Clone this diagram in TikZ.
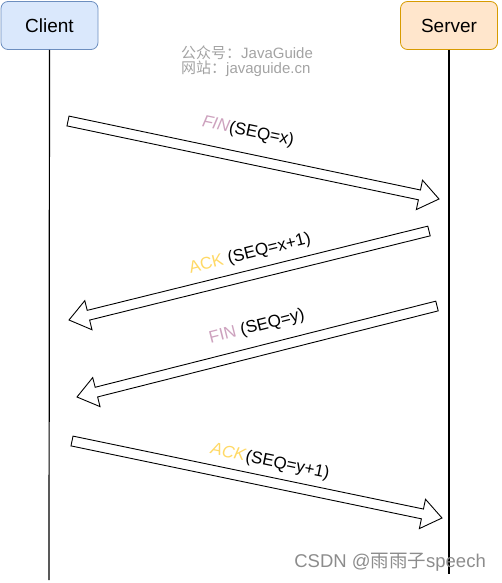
\documentclass[tikz,border=0pt]{standalone}
\usepackage{fontspec}
\setmainfont{Liberation Sans}
\newfontfamily\cjk{Noto Sans CJK SC}
\usetikzlibrary{calc}

\definecolor{clientfill}{HTML}{DAE8FC}
\definecolor{clientdraw}{HTML}{6C8EBF}
\definecolor{serverfill}{HTML}{FFE6CC}
\definecolor{serverdraw}{HTML}{D79B00}
\definecolor{finpink}{HTML}{CDA2BE}
\definecolor{ackyellow}{HTML}{FFD966}
\definecolor{markgray}{HTML}{A3A3A3}
\definecolor{csdngray}{HTML}{8C8C8C}

\begin{document}
\begin{tikzpicture}[x=1pt, y=-1pt,
  party/.style={draw, rounded corners=7pt, minimum width=97pt, minimum height=48pt,
    line width=0.8pt, font=\fontsize{19}{22}\selectfont},
  lifeline/.style={line width=1.2pt},
  msg/.style={inner sep=0pt, font=\fontsize{17}{19}\selectfont},
  blockarrow/.style={draw, fill=white, line width=0.9pt, line join=miter}]

\useasboundingbox (0,0) rectangle (501,583);

% Half width of the shaft, half width and length of the head
\def\sw{5pt}
\def\hw{15pt}
\def\hl{20pt}

% The two parties
\node[party, fill=clientfill, draw=clientdraw] (client) at (49.5,25.5) {Client};
\node[party, fill=serverfill, draw=serverdraw] (server) at (449,25.5) {Server};

% Lifelines
\coordinate (clientend) at (49,580);
\coordinate (serverend) at (449,574);
\draw[lifeline] (client.south) -- (clientend);
\draw[lifeline] (server.south) -- (serverend);

% Watermark
\node[anchor=west, markgray, align=left, inner sep=0pt, font=\fontsize{15}{15}\selectfont]
  (mark) at (181,61) {{\cjk 公众号：}JavaGuide\\{\cjk 网站：}javaguide.cn};

% Ends of the four messages
\coordinate (m1s) at (68,121);
\coordinate (m1e) at (439,199);
\coordinate (m2s) at (429,231);
\coordinate (m2e) at (69,320);
\coordinate (m3s) at (437,306);
\coordinate (m3e) at (77,397);
\coordinate (m4s) at (72,441);
\coordinate (m4e) at (442,518);

% Draw the block arrows
\foreach \tail/\tip in {m1s/m1e, m2s/m2e, m3s/m3e, m4s/m4e}
{
  \coordinate (h\tail) at ($(\tip)!\hl!(\tail)$);
  \draw[blockarrow] ($(\tail)!\sw!90:(\tip)$) -- ($(h\tail)!\sw!90:(\tip)$)
    -- ($(h\tail)!\hw!90:(\tip)$) -- (\tip) -- ($(h\tail)!\hw!-90:(\tip)$)
    -- ($(h\tail)!\sw!-90:(\tip)$) -- ($(\tail)!\sw!-90:(\tip)$) -- cycle;
}

% Labels of the messages
\node[msg, rotate=-11.9] (fin1) at (248,132) {\textcolor{finpink}{\textit{FIN}}(SEQ=x)};
\node[msg, rotate=13.9] (ack1) at (250,254) {\textcolor{ackyellow}{ACK} (SEQ=x+1)};
\node[msg, rotate=14.2] (fin2) at (257,327) {\textcolor{finpink}{FIN} (SEQ=y)};
\node[msg, rotate=-11.8] (ack2) at (270,462) {\textcolor{ackyellow}{\textit{ACK}}(SEQ=y+1)};

% CSDN mark
\node[anchor=east, csdngray, inner sep=0pt, font=\fontsize{18.5}{20}\selectfont]
  (csdn) at (486,562) {CSDN @{\cjk 雨雨子}speech};

\end{tikzpicture}
\end{document}
